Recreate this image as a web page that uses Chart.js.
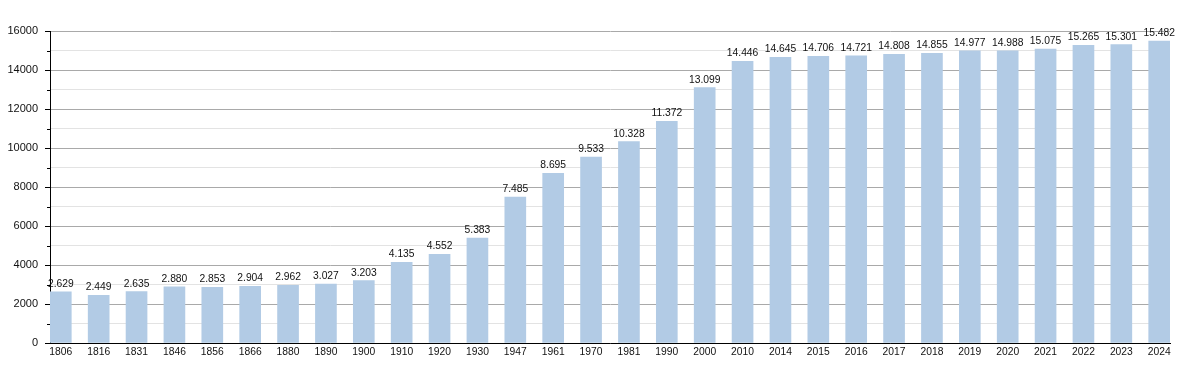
<!DOCTYPE html>
<html>
<head>
<meta charset="utf-8">
<script src="https://cdn.jsdelivr.net/npm/chart.js@4/dist/chart.umd.min.js"></script>
<style>
html,body{margin:0;padding:0;background:#fff;}
#wrap{width:1200px;height:373px;position:relative;}
</style>
</head>
<body>
<div id="wrap"><canvas id="c" width="1200" height="373"></canvas></div>
<script>
const years = ['1806','1816','1831','1846','1856','1866','1880','1890','1900','1910','1920','1930','1947','1961','1970','1981','1990','2000','2010','2014','2015','2016','2017','2018','2019','2020','2021','2022','2023','2024'];
const population = [2629,2449,2635,2880,2853,2904,2962,3027,3203,4135,4552,5383,7485,8695,9533,10328,11372,13099,14446,14645,14706,14721,14808,14855,14977,14988,15075,15265,15301,15482];
const yTicks = [0,2000,4000,6000,8000,10000,12000,14000,16000];

function fmt(v){ return String(v).replace(/\B(?=(\d{3})+(?!\d))/g,'.'); }

const FAMILY = '"Liberation Sans", Arial, sans-serif';

const labelPlugin = {
  id:'labels',
  afterDatasetsDraw(chart){
    const ctx = chart.ctx;
    const meta = chart.getDatasetMeta(0);
    ctx.save();
    ctx.font = '10.3px ' + FAMILY;
    ctx.fillStyle = '#111';
    ctx.textAlign = 'center';
    ctx.textBaseline = 'alphabetic';
    meta.data.forEach((bar,i)=>{
      ctx.fillText(fmt(population[i]), bar.x, bar.y - 5);
    });
    ctx.restore();
  }
};

const minorTickPlugin = {
  id:'minorTicks',
  afterDraw(chart){
    const ctx = chart.ctx;
    const y = chart.scales.y;
    const left = chart.chartArea.left;
    ctx.save();
    ctx.strokeStyle = '#000';
    ctx.lineWidth = 1;
    for(let v=1000; v<16000; v+=2000){
      const py = Math.round(y.getPixelForValue(v)) + 0.5;
      ctx.beginPath();
      ctx.moveTo(left-3, py);
      ctx.lineTo(left, py);
      ctx.stroke();
    }
    ctx.restore();
  }
};

function barFill(context){
  const chart = context.chart;
  const el = context.element;
  if(!el || el.x == null || isNaN(el.x)) return 'rgb(178,203,229)';
  const w = 21;
  const g = chart.ctx.createLinearGradient(el.x - w/2, 0, el.x + w/2, 0);
  g.addColorStop(0, 'rgb(190,212,236)');
  g.addColorStop(0.12, 'rgb(178,203,229)');
  g.addColorStop(0.85, 'rgb(178,203,229)');
  g.addColorStop(1, 'rgb(198,216,238)');
  return g;
}

new Chart(document.getElementById('c'), {
  type:'bar',
  data:{
    datasets:[{
      data: population.map((v,i)=>({x:i, y:v})),
      backgroundColor: barFill,
      borderWidth:0,
      barThickness:21
    }]
  },
  plugins:[labelPlugin, minorTickPlugin],
  options:{
    responsive:false,
    animation:false,
    layout:{padding:{left:0,right:30,top:31,bottom:0}},
    plugins:{legend:{display:false}, tooltip:{enabled:false}},
    scales:{
      x:{
        type:'linear',
        min:-0.285,
        max:29.285,
        offset:false,
        afterBuildTicks(scale){ scale.ticks = years.map((_,i)=>({value:i})); },
        afterFit(scale){ scale.height = 30; },
        ticks:{
          autoSkip:false, maxRotation:0, minRotation:0,
          font:{family:FAMILY, size:10.3}, color:'#111', padding:3,
          callback:(v)=> years[v] !== undefined ? years[v] : ''
        },
        grid:{display:true, drawOnChartArea:false, drawTicks:false},
        border:{display:true, color:'#000', width:1}
      },
      y:{
        min:0, max:16000,
        afterBuildTicks(scale){
          const t=[]; for(let v=0; v<=16000; v+=1000) t.push({value:v});
          scale.ticks = t;
        },
        afterFit(scale){ scale.width = 50; },
        ticks:{
          font:{family:FAMILY, size:11}, color:'#111', padding:7,
          callback:(v)=> (v % 2000 === 0 ? String(v) : '')
        },
        grid:{
          color:(c)=> (c.tick && c.tick.value % 2000 === 0 ? '#a9a9a9' : '#e3e3e3'),
          tickColor:(c)=> (c.tick && c.tick.value % 2000 === 0 ? '#000' : 'rgba(0,0,0,0)'),
          tickLength:5,
          lineWidth:1
        },
        border:{display:true, color:'#000', width:1}
      }
    }
  }
});
</script>
</body>
</html>
